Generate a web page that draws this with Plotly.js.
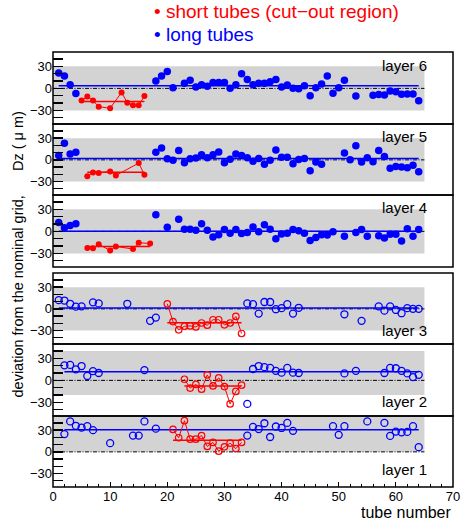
<!DOCTYPE html>
<html>
<head>
<meta charset="utf-8">
<script src="https://cdn.plot.ly/plotly-3.0.1.min.js"></script>
<style>html,body{margin:0;padding:0;background:#fff;}#chart{width:465px;height:520px;}</style>
</head>
<body>
<div id="chart"></div>
<script>
// ---------------- data (tube number, Dz in micrometres) ----------------
const layerNames = ["layer 1", "layer 2", "layer 3", "layer 4", "layer 5", "layer 6"];
const bandCenter = [30, 10, 0, 0, 0, 0];   // centre of the grey ±30 µm band, layers 1..6

const L6_blueTube = [1,2,3,4,18,19,20,21,23,24,25,26,27,28,29,30,31,32,33,34,35,36,37,38,39,40,41,42,43,44,45,46,47,48,49,50,51,53,56,57,58,59,60,61,62,63,64];
const L6_blueDz   = [21,17,5,-7,10,17,23,1,7,11,2,5,3,8,8,8,0,5,20,12,5,7,7,9,12,2,4.5,0,-0.5,3.5,-10,1,6,17,-6.5,1,11,-10.5,-9.5,-8.5,-9,-3.5,-4.5,-8,-7.5,-7.5,-17];
const L6_redTube  = [5,6,7,8,10,12,13,14,15,16];
const L6_redDz    = [-16.5,-11,-16.5,-25,-27,-5.5,-19.5,-23,-23,-10.5];

const L5_blueTube = [1,2,3,4,18,19,20,21,22,23,24,25,26,27,28,29,30,31,32,33,34,35,36,37,38,39,40,41,42,43,44,45,46,47,51,52,53,54,55,56,57,58,59,60,61,62,63,64];
const L5_blueDz   = [6,23,8,10.5,10.5,16.5,1.5,-0.5,13,-4,1.5,2.5,7,3,7,11,-4,1,8,6,3,-2,2,-6,-0.5,13.5,3.5,3.5,-5.5,0.5,2,-15,-3,-6,9.5,0,19.5,-3,3,-2.5,13,4.5,-11.5,-9,-10,-11,-7.5,-16.5];
const L5_redTube  = [6,7,8,10,11,15,16];
const L5_redDz    = [-22.5,-17.5,-18,-16,-21.5,-4.5,-20.5];

const L4_blueTube = [1,2,3,4,18,20,22,23,24,25,26,27,28,29,30,31,32,33,34,35,36,37,38,39,40,41,42,43,44,45,46,47,48,49,51,53,54,55,57,58,59,60,61,62,63,64];
const L4_blueDz   = [12,5,8,10.5,22.5,5.5,16.5,3,3,1.5,10.5,1.5,-7.5,-4.5,2.5,-2.5,2.5,-3,-1.5,6,-0.5,9,3,-10,-3.5,-2.5,2.5,1,-2.5,-12.5,-8.5,-4.5,-5,-0.5,-6.5,-1.5,2.5,-6.5,-6,-9,-4,-4,-13,3.5,-6.5,2.5];
const L4_redTube  = [6,7,8,10,11,14,15,17];
const L4_redDz    = [-22.5,-23,-17.5,-26,-20.5,-24,-15.5,-16.5];

const L3_blueTube = [1,2,3,4,5,7,8,13,17,18,34,35,36,37,38,39,40,41,42,43,51,54,57,58,59,60,61,62,63,64];
const L3_blueDz   = [12,11.5,7,3,3.5,9,7.5,7,-16.5,-12,7.5,6.5,-6.5,9.5,9.5,-0.5,1,6.5,-6.5,1.5,-7.5,-16.5,3.5,-2.5,3.5,-1.5,-6,1,0,0];
const L3_redTube  = [20,21,22,23,24,25,26,27,28,29,30,31,32,33];
const L3_redDz    = [7,-17.5,-29,-24,-23.5,-25,-19.5,-22.5,-15,-15,-22,-19.5,-10.5,-34];

const L2_blueTube = [2,3,4,5,6,7,8,16,34,35,36,37,38,39,40,41,42,43,51,53,58,59,60,61,62,63,64];
const L2_blueDz   = [20.5,21,15,19.5,6,12.5,10,14,-32,15.5,19.5,18,17,13,10.5,17,10.5,10,9.5,13,10,17,16.5,13,9.5,4.5,7.5];
const L2_redTube  = [23,24,25,26,27,28,29,30,31,32,33];
const L2_redDz    = [1.5,-10.5,-5.5,-12,7.5,-7.5,3.5,-8.5,-32,-15,-6.5];

const L1_blueTube = [2,3,4,5,6,7,10,14,15,16,18,34,35,36,37,38,39,40,41,42,49,50,51,55,58,59,60,61,62,63,64];
const L1_blueDz   = [24.5,42,36,33.5,35.5,30,12,22.5,22.5,42,32,22.5,34.5,31.5,39.5,20.5,35,33,40,29,35.5,23.5,35.5,42,40,22,28,27,27.5,35.5,6.5];
const L1_redTube  = [21,22,23,24,25,26,27,28,29,30,31,32,33];
const L1_redDz    = [31,19.5,43,17.5,17.5,22.5,7.5,13,1,7,12,4.5,13];

const xTickVals = [0,10,20,30,40,50,60,70];
const yTickVals = [-40,-30,-20,-10,0,10,20,30,40];
const yTickText = ["","\u221230","","","0","","","30",""];

// ---------------- layout helpers ----------------
const FONT = "Liberation Sans, Arial, Helvetica, sans-serif";
const W = 465, H = 520, ML = 53, MR = 12, MT = 52, MB = 33;
const PW = W - ML - MR, PH = H - MT - MB;
const px2x = p => (p - ML) / PW;
const px2y = p => (H - MB - p) / PH;
const panelPx = [[416,487],[344,416],[273,344],[195,267],[124,195],[52,124]]; // layers 1..6 (top,bottom px)
const labelPy = [469, 401, 330, 207, 136, 65];
const Y_RANGE = [-48.5, 49.5];
const BLUE = "#0000ff", RED = "#ff0000";

const layers = [
  [L1_blueTube, L1_blueDz, L1_redTube, L1_redDz],
  [L2_blueTube, L2_blueDz, L2_redTube, L2_redDz],
  [L3_blueTube, L3_blueDz, L3_redTube, L3_redDz],
  [L4_blueTube, L4_blueDz, L4_redTube, L4_redDz],
  [L5_blueTube, L5_blueDz, L5_redTube, L5_redDz],
  [L6_blueTube, L6_blueDz, L6_redTube, L6_redDz]
];
const mean = a => a.reduce((s, v) => s + v, 0) / a.length;

const traces = [], shapes = [], annotations = [];
const layout = {
  width: W, height: H,
  margin: {l: ML, r: MR, t: MT, b: MB, pad: 0},
  paper_bgcolor: "#fff", plot_bgcolor: "#fff",
  showlegend: false,
  font: {family: FONT, color: "#000"},
  xaxis: {
    range: [0, 70], domain: [0, 1], anchor: "y",
    tickvals: xTickVals, ticks: "inside", ticklen: 5, tickwidth: 1, tickcolor: "#000",
    minor: {dtick: 2, tick0: 0, ticks: "inside", ticklen: 3, tickcolor: "#000"},
    showgrid: false, zeroline: false, showline: false,
    tickfont: {family: FONT, size: 13, color: "#000"}
  }
};

layers.forEach((L, i) => {
  const [bt, bv, rt, rv] = L;
  const yName = i === 0 ? "y" : "y" + (i + 1);
  const axKey = i === 0 ? "yaxis" : "yaxis" + (i + 1);
  const [pTop, pBot] = panelPx[i];
  const filled = i >= 3;
  layout[axKey] = {
    domain: [px2y(pBot), px2y(pTop)], range: Y_RANGE, anchor: "x",
    tickvals: yTickVals, ticktext: yTickText,
    ticks: "inside", ticklen: 10, tickwidth: 1.3, tickcolor: "#000",
    showgrid: false, zeroline: false, showline: false,
    tickfont: {family: FONT, size: 13, color: "#000"}
  };
  // grey band and nominal-zero line
  shapes.push({type: "rect", xref: "x", yref: yName, x0: 0, x1: 65,
    y0: Math.max(bandCenter[i] - 30, Y_RANGE[0]), y1: Math.min(bandCenter[i] + 30, Y_RANGE[1]),
    fillcolor: "#d3d3d3", line: {width: 0}, layer: "below"});
  shapes.push({type: "line", xref: "x", yref: yName, x0: 0, x1: 65, y0: 0, y1: 0,
    line: {color: "#000", width: 1, dash: "4px,1.5px,1px,1.5px"}, layer: "below"});
  // panel frame
  shapes.push({type: "rect", xref: "paper", yref: "paper", x0: 0, x1: 1,
    y0: px2y(pBot), y1: px2y(pTop), line: {color: "#000", width: 1.5}, fillcolor: "rgba(0,0,0,0)", layer: "above"});

  const bm = mean(bv), rm = mean(rv);
  traces.push({x: [bt[0], bt[bt.length - 1]], y: [bm, bm], xaxis: "x", yaxis: yName,
    mode: "lines", line: {color: BLUE, width: 1.5}, hoverinfo: "skip"});
  traces.push({x: [rt[0], rt[rt.length - 1]], y: [rm, rm], xaxis: "x", yaxis: yName,
    mode: "lines", line: {color: RED, width: 1.5}, hoverinfo: "skip"});
  traces.push({x: rt, y: rv, xaxis: "x", yaxis: yName, mode: "lines+markers",
    line: {color: RED, width: 1},
    marker: filled ? {symbol: "circle", size: 6, color: RED}
                   : {symbol: "circle-open", size: 6.5, color: RED, line: {width: 1.2, color: RED}},
    name: "short tubes (cut\u2212out region)"});
  traces.push({x: bt, y: bv, xaxis: "x", yaxis: yName, mode: "markers",
    marker: filled ? {symbol: "circle", size: 7.5, color: BLUE}
                   : {symbol: "circle-open", size: 7, color: BLUE, line: {width: 1.3, color: BLUE}},
    name: "long tubes"});
  annotations.push({text: layerNames[i], xref: "paper", yref: "paper", x: px2x(429), y: px2y(labelPy[i]),
    xanchor: "right", yanchor: "middle", showarrow: false, font: {family: FONT, size: 15, color: "#000"}});
});

annotations.push({text: "\u2022\u00a0short tubes (cut\u2212out region)", xref: "paper", yref: "paper",
  x: px2x(152), y: px2y(12), xanchor: "left", yanchor: "middle", showarrow: false,
  font: {family: FONT, size: 19, color: RED}});
annotations.push({text: "\u2022\u00a0long tubes", xref: "paper", yref: "paper",
  x: px2x(152), y: px2y(34.5), xanchor: "left", yanchor: "middle", showarrow: false,
  font: {family: FONT, size: 19, color: BLUE}});
annotations.push({text: "deviation from the nominal grid,\u00a0\u00a0\u00a0\u00a0\u00a0\u00a0Dz (\u00a0\u03bc\u00a0m)",
  xref: "paper", yref: "paper", x: px2x(17), y: px2y(254.5), xanchor: "center", yanchor: "middle",
  textangle: -90, showarrow: false, font: {family: FONT, size: 14.5, color: "#000"}});
annotations.push({text: "tube number", xref: "paper", yref: "paper", x: px2x(454), y: px2y(512),
  xanchor: "right", yanchor: "middle", showarrow: false, font: {family: FONT, size: 16, color: "#000"}});

layout.shapes = shapes;
layout.annotations = annotations;
Plotly.newPlot("chart", traces, layout, {staticPlot: true, displayModeBar: false});
</script>
</body>
</html>
